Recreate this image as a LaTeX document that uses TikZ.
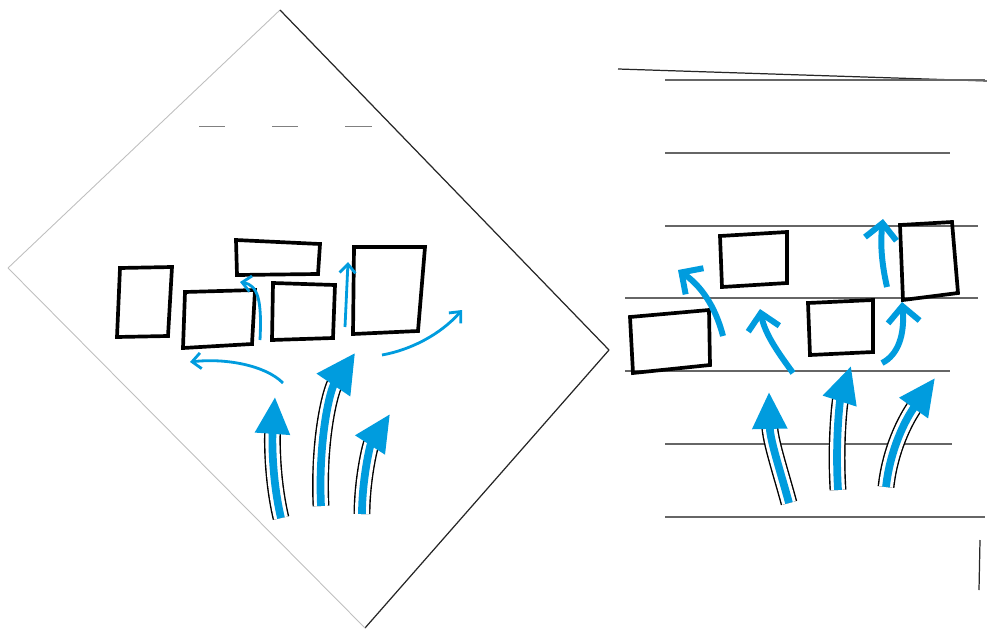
\documentclass[tikz,border=0pt]{standalone}
\usepackage{tikz}
\usetikzlibrary{arrows.meta}
\definecolor{sketchblue}{RGB}{0,156,222}

\begin{document}
\begin{tikzpicture}[
    x=0.02cm, y=-0.02cm,
    box/.style={draw=black, line width=2.1pt, line join=miter},
    bigarrow/.style={sketchblue, line width=4.4pt, -{Triangle[length=21pt, width=19pt]}},
    midarrow/.style={sketchblue, line width=3.4pt, -{Straight Barb[length=9pt, width=18pt]}},
    smallarrow/.style={sketchblue, line width=1.6pt, -{Straight Barb[length=5pt, width=9pt]}},
    inkline/.style={draw=black, line width=0.8pt, double=white, double distance=8pt, shorten >=19pt},
    ruling/.style={black!60, line width=0.6pt},
    rim/.style={black!85, line width=0.7pt},
    faint/.style={black!25, line width=0.5pt},
]
\useasboundingbox (0,0) rectangle (987,632);

% Diamond sheet
\draw[faint] (8,268) -- (280,10);
\draw[rim] (280,10) -- (609,350);
\draw[rim] (609,350) -- (365,628);
\draw[faint] (365,628) -- (8,268);
\draw[faint, black!50] (199,126) -- (225,126) (272,126) -- (298,126) (345,126) -- (372,126);

% Diamond boxes
\draw[box] (120,268) -- (172,267) -- (168,336) -- (117,337) -- cycle;
\draw[box] (185,292) -- (255,290) -- (252,344) -- (183,348) -- cycle;
\draw[box] (236,240) -- (320,244) -- (318,274) -- (237,275) -- cycle;
\draw[box] (273,283) -- (335,285) -- (333,338) -- (272,340) -- cycle;
\draw[box] (354,247) -- (425,247) -- (418,331) -- (353,334) -- cycle;

% Diamond arrows
\draw[inkline] (281,518) .. controls (272,480) and (272,440) .. (275,397);
\draw[inkline] (321,506) .. controls (318,440) and (330,390) .. (355,353);
\draw[inkline] (362,514) .. controls (362,480) and (370,445) .. (390,414);
\draw[bigarrow] (281,518) .. controls (272,480) and (272,440) .. (275,397);
\draw[bigarrow, -{Triangle[length=22pt, width=22pt]}] (321,506) .. controls (318,440) and (330,390) .. (355,353);
\draw[bigarrow] (362,514) .. controls (362,480) and (370,445) .. (390,414);
\draw[smallarrow] (283,383) .. controls (265,365) and (225,358) .. (190,362);
\draw[smallarrow] (382,355) .. controls (410,350) and (440,335) .. (462,310);
\draw[smallarrow] (345,327) -- (348,262);
\draw[smallarrow] (260,340) .. controls (262,300) and (258,285) .. (240,282);

% Lined sheet
\draw[rim] (618,69) -- (987,81);
\draw[ruling] (665,80) -- (985,80);
\draw[ruling] (665,153) -- (950,153);
\draw[ruling] (665,226) -- (978,226);
\draw[ruling] (625,298) -- (978,298);
\draw[ruling] (625,371) -- (950,371);
\draw[ruling] (665,444) -- (952,444);
\draw[ruling] (665,517) -- (985,517);
\draw[rim] (980,540) -- (979,590);

% Lined sheet boxes
\draw[box] (630,317) -- (709,310) -- (710,365) -- (633,373) -- cycle;
\draw[box] (720,236) -- (787,232) -- (787,283) -- (722,287) -- cycle;
\draw[box] (808,303) -- (873,300) -- (873,352) -- (810,355) -- cycle;
\draw[box] (900,225) -- (952,222) -- (958,293) -- (903,300) -- cycle;

% Lined sheet arrows
\draw[inkline] (789,503) .. controls (780,470) and (770,440) .. (769,392);
\draw[inkline] (838,490) .. controls (835,440) and (840,400) .. (851,366);
\draw[inkline] (886,487) .. controls (890,450) and (905,420) .. (935,378);
\draw[bigarrow] (789,503) .. controls (780,470) and (770,440) .. (769,392);
\draw[bigarrow] (838,490) .. controls (835,440) and (840,400) .. (851,366);
\draw[bigarrow] (886,487) .. controls (890,450) and (905,420) .. (935,378);
\draw[midarrow] (723,336) .. controls (715,305) and (700,285) .. (678,270);
\draw[midarrow] (793,373) .. controls (780,355) and (765,335) .. (760,309);
\draw[midarrow] (887,287) .. controls (882,265) and (880,245) .. (883,219);
\draw[midarrow] (882,363) .. controls (898,355) and (905,335) .. (902,302);

\end{tikzpicture}
\end{document}
